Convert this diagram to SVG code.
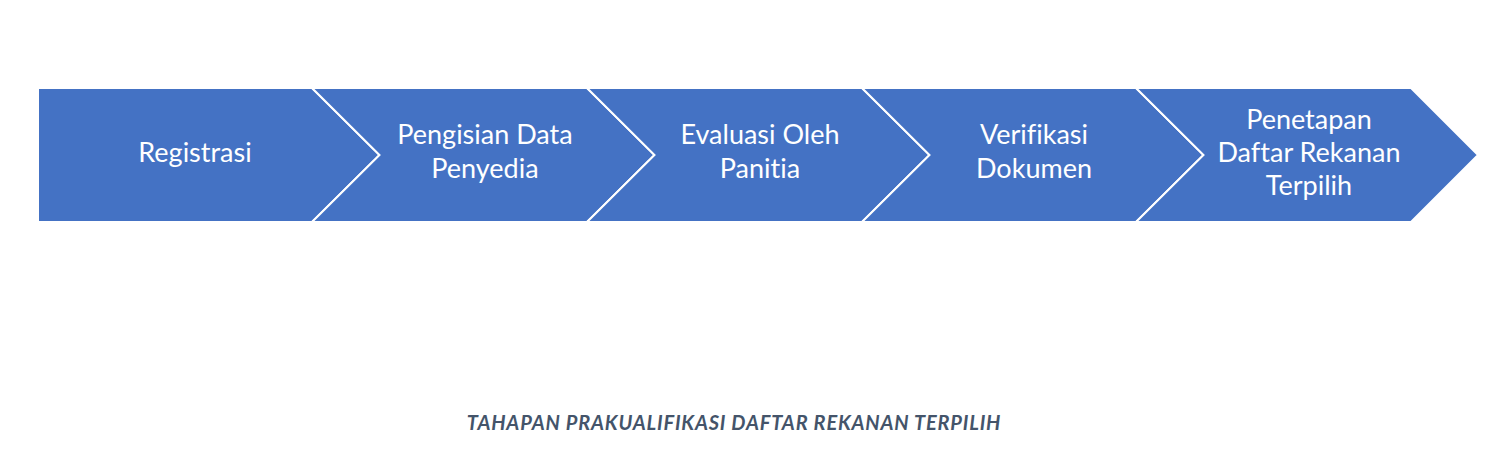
<svg xmlns="http://www.w3.org/2000/svg" width="1502" height="450" viewBox="0 0 1502 450">
<style>
.chev{fill:#4472C4;stroke:#FFFFFF;stroke-width:2;stroke-linejoin:miter}
.lbl{font-family:Lato,"Open Sans","Liberation Sans",sans-serif;font-size:27px;fill:#FFFFFF;text-anchor:middle;font-variant-ligatures:none;font-feature-settings:"liga" 0,"dlig" 0}
.cap{font-family:Lato,"Open Sans","Liberation Sans",sans-serif;font-size:20px;font-weight:bold;font-style:italic;fill:#44546A;text-anchor:middle;letter-spacing:0.8px;font-variant-ligatures:none;font-feature-settings:"liga" 0}
</style>
<rect width="1502" height="450" fill="#FFFFFF"/>
<g id="step1">
<path class="chev" d="M38,88 L312,88 L379.5,155 L312,222 L38,222 Z"/>
<text class="lbl" x="195" y="162">Registrasi</text>
</g>
<g id="step2">
<path class="chev" d="M312,88 L587,88 L654.5,155 L587,222 L312,222 L379.5,155 Z"/>
<text class="lbl" x="485" y="144">Pengisian Data</text>
<text class="lbl" x="485" y="178">Penyedia</text>
</g>
<g id="step3">
<path class="chev" d="M587,88 L862,88 L929.5,155 L862,222 L587,222 L654.5,155 Z"/>
<text class="lbl" x="760" y="144">Evaluasi Oleh</text>
<text class="lbl" x="760" y="178">Panitia</text>
</g>
<g id="step4">
<path class="chev" d="M862,88 L1136,88 L1203.5,155 L1136,222 L862,222 L929.5,155 Z"/>
<text class="lbl" x="1034" y="144">Verifikasi</text>
<text class="lbl" x="1034" y="178">Dokumen</text>
</g>
<g id="step5">
<path class="chev" d="M1136,88 L1411,88 L1478,155 L1411,222 L1136,222 L1203.5,155 Z"/>
<text class="lbl" x="1309" y="129">Penetapan</text>
<text class="lbl" x="1309" y="162">Daftar Rekanan</text>
<text class="lbl" x="1309" y="195">Terpilih</text>
</g>
<g id="connectors"></g>
<g id="caption">
<text class="cap" x="734" y="430">TAHAPAN PRAKUALIFIKASI DAFTAR REKANAN TERPILIH</text>
</g>
</svg>
